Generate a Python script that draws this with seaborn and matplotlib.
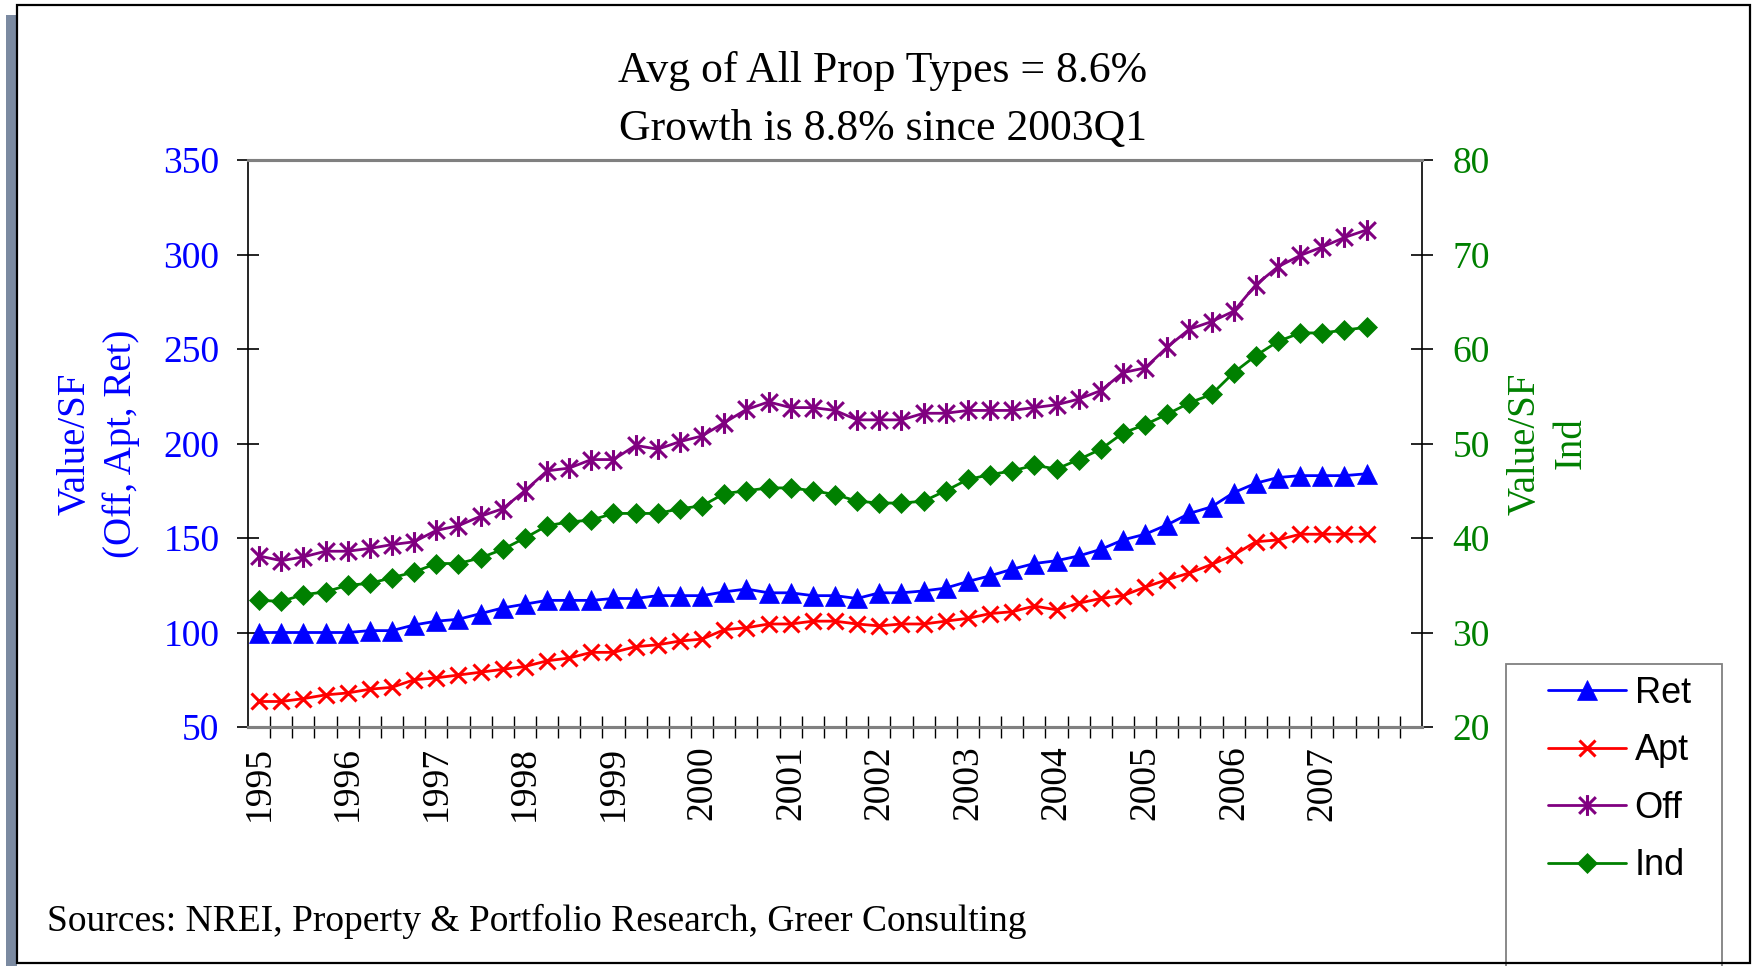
import numpy as np
import pandas as pd
import matplotlib
matplotlib.use("Agg")
import matplotlib.pyplot as plt
from matplotlib.path import Path
from matplotlib.patches import Rectangle
from matplotlib.ticker import FixedLocator
import seaborn as sns

# ---- data: quarterly values per square foot, 1995Q1 .. 2007Q3 ----
years = ["1995", "1996", "1997", "1998", "1999", "2000", "2001",
         "2002", "2003", "2004", "2005", "2006", "2007"]

ret = [100, 100, 100, 100, 100, 101, 101, 104, 106, 107,
       110, 113, 115, 117, 117, 117, 118, 118, 119.5, 119.5,
       119.5, 121.5, 123, 121, 121, 119.5, 119.5, 118, 121, 121,
       122, 123.5, 127, 130, 133.5, 136.5, 138, 140.5, 144, 149,
       152, 157, 163, 166.5, 174, 179, 182, 183, 183, 183, 184]

apt = [63.5, 63.5, 65, 67, 68, 70, 71, 75, 76, 77.5,
       79, 80.5, 82, 85, 86.5, 89.5, 89.5, 92.5, 93.5, 95.5,
       96.5, 101.5, 102.5, 104.5, 104.5, 106, 106, 104.5, 103.5, 104.5,
       104.5, 106, 107.5, 110, 111, 114, 112, 115.5, 118, 119.5,
       124, 128, 131.5, 136, 141, 148, 149, 152, 152, 152, 152]

off = [140.5, 138, 140, 143, 143, 144.5, 146.5, 148, 154, 156.5,
       161.5, 165.5, 175, 185.5, 187, 191.5, 191.5, 199, 197, 201,
       204, 211, 218, 222, 219, 219, 217.5, 212.5, 212.5, 212.5,
       216, 216, 217.5, 217.5, 217.5, 219, 220.5, 223.5, 228, 237.5,
       240, 251, 260.5, 264.5, 270, 284, 293.5, 299.5, 304, 309, 313]

ind = [33.4, 33.3, 34.0, 34.3, 35.0, 35.2, 35.8, 36.4, 37.3, 37.3,
       37.9, 38.8, 40.0, 41.3, 41.7, 41.9, 42.6, 42.6, 42.6, 43.1,
       43.4, 44.7, 45.0, 45.3, 45.3, 45.0, 44.6, 43.9, 43.7, 43.7,
       43.9, 45.0, 46.2, 46.7, 47.1, 47.7, 47.3, 48.3, 49.4, 51.1,
       52.0, 53.1, 54.3, 55.2, 57.5, 59.3, 60.8, 61.7, 61.7, 62.0, 62.3]

n_slots = 53  # category slots on the axis (last two quarters empty)

df = pd.DataFrame({"q": np.arange(len(ret)), "Ret": ret, "Apt": apt,
                   "Off": off, "Ind": ind})

# ---- style ----
sns.set_style("white")
plt.rcParams["font.family"] = ["Liberation Serif", "DejaVu Serif"]
plt.rcParams["text.color"] = "black"
plt.rcParams["axes.labelcolor"] = "black"
plt.rcParams["xtick.color"] = "black"
plt.rcParams["ytick.color"] = "black"

W, H, DPI = 1756, 966, 100
fig = plt.figure(figsize=(W / DPI, H / DPI), dpi=DPI, facecolor="white")


def fx(px):
    return px / W


def fy(py):
    return 1 - py / H


# shadow bar on the left of the panel
fig.add_artist(Rectangle((fx(6), 0), fx(11), fy(15), transform=fig.transFigure,
                         facecolor="#7b8aa1", edgecolor="none", zorder=0))

ax_l, ax_r, ax_t, ax_b = 248, 1422, 160, 727
ax = fig.add_axes([fx(ax_l), fy(ax_b), fx(ax_r - ax_l), fy(ax_t) - fy(ax_b)])
ax.set_facecolor("none")
ax2 = ax.twinx()

blue, red, purple, green = "#0000FF", "#FF0000", "#800080", "#008000"

star = Path([(-1, -1), (1, 1), (-1, 1), (1, -1), (0, -1.25), (0, 1.25)],
            [Path.MOVETO, Path.LINETO, Path.MOVETO, Path.LINETO,
             Path.MOVETO, Path.LINETO])

lw = 2.0
sns.lineplot(data=df, x="q", y="Ret", ax=ax, color=blue, lw=lw, marker="^",
             markersize=14, markeredgecolor=blue, markeredgewidth=0.5,
             label="Ret", sort=False, errorbar=None)
sns.lineplot(data=df, x="q", y="Apt", ax=ax, color=red, lw=lw, marker="x",
             markersize=12, markeredgecolor=red, markeredgewidth=2.2,
             label="Apt", sort=False, errorbar=None)
sns.lineplot(data=df, x="q", y="Off", ax=ax, color=purple, lw=lw, marker=star,
             markersize=15, markeredgecolor=purple, markeredgewidth=2.2,
             label="Off", sort=False, errorbar=None)
sns.lineplot(data=df, x="q", y="Ind", ax=ax2, color=green, lw=lw, marker="D",
             markersize=10, markeredgecolor=green, markeredgewidth=0.5,
             label="Ind", sort=False, errorbar=None)

for a in (ax, ax2):
    if a.get_legend() is not None:
        a.get_legend().remove()

# ---- axes ----
ax.set_xlim(-0.5, n_slots - 0.5)
ax.set_ylim(50, 350)
ax.set_yticks(np.arange(50, 351, 50))
ax2.set_ylim(20, 80)
ax2.set_yticks(np.arange(20, 81, 10))

ax.set_xticks(np.arange(0, 4 * len(years), 4))
ax.set_xticklabels(years, rotation=90, fontsize=27)
ax.xaxis.set_minor_locator(FixedLocator(np.arange(0.5, n_slots - 0.5, 1)))
ax.tick_params(axis="x", which="major", length=0, pad=13.5, bottom=True)
ax.tick_params(axis="x", which="minor", direction="inout", length=16,
               width=1, color="black", bottom=True)
ax.tick_params(axis="y", which="major", direction="inout", length=16,
               width=1.2, color="black", left=True, labelcolor=blue,
               labelsize=27, pad=12.5)
ax2.tick_params(axis="y", which="major", direction="inout", length=16,
                width=1.2, color="black", right=True, labelcolor=green,
                labelsize=27, pad=14)
ax.set_xlabel("")

ax.set_ylabel("Value/SF\n(Off, Apt, Ret)", color=blue, fontsize=28,
              linespacing=1.3)
ax.yaxis.set_label_coords((98 - ax_l) / (ax_r - ax_l), 0.5)
ax.yaxis.label.set_va("center")
ax2.set_ylabel("Value/SF\nInd", color=green, fontsize=28, rotation=90,
               linespacing=1.3)
ax2.yaxis.set_label_coords((1548 - ax_l) / (ax_r - ax_l), 0.5)
ax2.yaxis.label.set_va("center")

for a in (ax, ax2):
    for side in ("top", "bottom"):
        a.spines[side].set_color("#808080")
        a.spines[side].set_linewidth(2.2)
ax.spines["left"].set_color("black")
ax.spines["left"].set_linewidth(1.2)
ax.spines["right"].set_visible(False)
ax2.spines["left"].set_visible(False)
ax2.spines["right"].set_color("black")
ax2.spines["right"].set_linewidth(1.2)

# ---- title and source ----
fig.text(fx(883), fy(140), "Avg of All Prop Types = 8.6%\nGrowth is 8.8% since 2003Q1",
         ha="center", va="baseline", fontsize=31.5, linespacing=1.58,
         color="black")
fig.text(fx(47), fy(931),
         "Sources: NREI, Property & Portfolio Research, Greer Consulting",
         ha="left", va="baseline", fontsize=27, color="black")

# ---- legend ----
fig.add_artist(Rectangle((fx(1506), fy(980)), fx(1722 - 1506), fy(664) - fy(980),
                         transform=fig.transFigure, facecolor="white",
                         edgecolor="#808080", lw=1.3, zorder=3))
h1, l1 = ax.get_legend_handles_labels()
h2, l2 = ax2.get_legend_handles_labels()
leg = fig.legend(h1 + h2, l1 + l2, loc="upper left",
                 bbox_to_anchor=(fx(1548), fy(676)), frameon=False,
                 borderpad=0, borderaxespad=0, handlelength=2.15,
                 handletextpad=0.25, labelspacing=0.62,
                 prop={"family": ["Liberation Sans", "DejaVu Sans"], "size": 26})
for t in leg.get_texts():
    t.set_color("black")
leg.set_zorder(4)

# outer border of the panel
fig.add_artist(Rectangle((fx(17), fy(963)), fx(1750 - 17), fy(5) - fy(963),
                         transform=fig.transFigure, facecolor="none",
                         edgecolor="black", lw=1.6, zorder=5))

fig.savefig("out.png", dpi=DPI, facecolor="white")
